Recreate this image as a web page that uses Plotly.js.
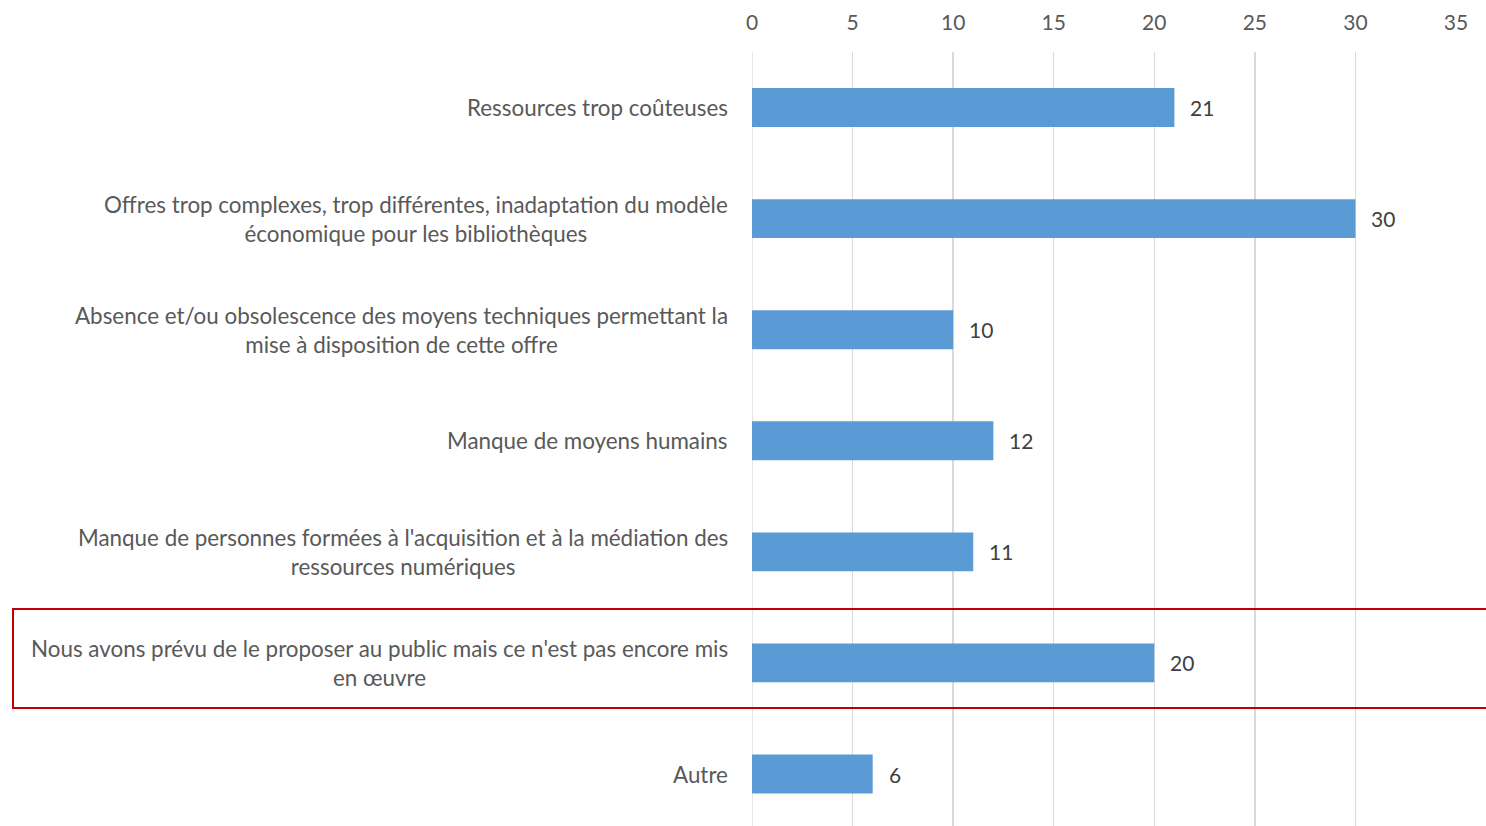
<!DOCTYPE html>
<html>
<head>
<meta charset="utf-8">
<script src="https://cdn.plot.ly/plotly-3.0.1.min.js"></script>
<style>html,body{margin:0;padding:0;background:#fff;}#chart{width:1486px;height:826px;}</style>
</head>
<body>
<div id="chart"></div>
<script>
const categories = [
  "Ressources trop coûteuses",
  "Offres trop complexes, trop différentes, inadaptation du modèle<br>économique pour les bibliothèques",
  "Absence et/ou obsolescence des moyens techniques permettant la<br>mise à disposition de cette offre",
  "Manque de moyens humains",
  "Manque de personnes formées à l'acquisition et à la médiation des<br>ressources numériques",
  "Nous avons prévu de le proposer au public mais ce n'est pas encore mis<br>en œuvre",
  "Autre"
];
const values = [21, 30, 10, 12, 11, 20, 6];
const xTicks = [0, 5, 10, 15, 20, 25, 30, 35];
const highlightIndex = 5;

const FONT = "Lato, sans-serif";
const FS = 22.4;
const idx = categories.map((c, i) => i);

const trace = {
  type: 'bar',
  orientation: 'h',
  x: values,
  y: idx,
  width: 0.35,
  marker: {color: '#5B9BD5'},
  hoverinfo: 'x'
};

const annotations = [];
categories.forEach((c, i) => {
  annotations.push({
    xref: 'paper', yref: 'y', x: 0, y: i,
    text: c, showarrow: false, xanchor: 'right', yanchor: 'middle',
    align: 'center', xshift: -22,
    font: {family: FONT, size: FS, color: '#595959'}
  });
  annotations.push({
    xref: 'x', yref: 'y', x: values[i], y: i,
    text: String(values[i]), showarrow: false, xanchor: 'left', yanchor: 'middle',
    xshift: 14,
    font: {family: FONT, size: 21, color: '#404040'}
  });
});

const layout = {
  width: 1486, height: 826,
  margin: {l: 752, r: 30, t: 52, b: 0},
  paper_bgcolor: '#fff', plot_bgcolor: '#fff',
  showlegend: false,
  font: {family: FONT, size: FS, color: '#595959'},
  xaxis: {
    side: 'top', range: [0, 35], tickvals: xTicks, ticktext: xTicks.map(String),
    showgrid: true, gridcolor: '#D9D9D9', gridwidth: 1.3,
    zeroline: false, showline: false, ticks: '',
    ticklabelstandoff: 17,
    tickfont: {family: FONT, size: 21, color: '#595959'}
  },
  yaxis: {
    range: [6.468, -0.5], showticklabels: false, showgrid: false,
    zeroline: false, showline: false, ticks: ''
  },
  shapes: [
    {type: 'line', xref: 'x', yref: 'paper', x0: 0, x1: 0, y0: 0, y1: 1,
     line: {color: '#D9D9D9', width: 1.3}, layer: 'below'},
    {type: 'rect', xref: 'paper', yref: 'y',
     x0: -1.0497, x1: 1.06, y0: highlightIndex - 0.486, y1: highlightIndex + 0.405,
     line: {color: '#C00000', width: 2}, fillcolor: 'rgba(0,0,0,0)', layer: 'above'}
  ],
  annotations: annotations
};

Plotly.newPlot('chart', [trace], layout, {displayModeBar: false, staticPlot: true});
</script>
</body>
</html>
